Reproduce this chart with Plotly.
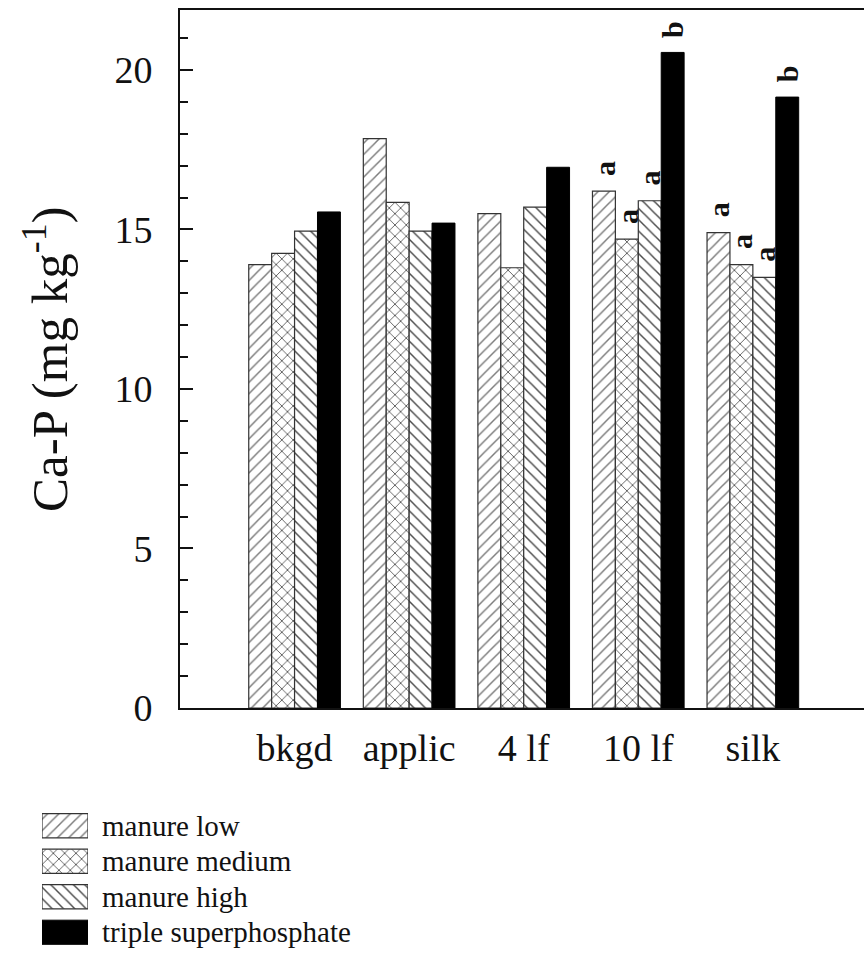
import plotly.graph_objects as go

# ---------------- data ----------------
categories = ["bkgd", "applic", "4 lf", "10 lf", "silk"]
series_names = ["manure low", "manure medium", "manure high", "triple superphosphate"]
manure_low = [13.9, 17.85, 15.5, 16.2, 14.9]
manure_medium = [14.25, 15.85, 13.8, 14.7, 13.9]
manure_high = [14.95, 14.95, 15.7, 15.9, 13.5]
triple_super = [15.55, 15.2, 16.95, 20.55, 19.15]
letters_low = ["", "", "", "a", "a"]
letters_medium = ["", "", "", "a", "a"]
letters_high = ["", "", "", "a", "a"]
letters_super = ["", "", "", "b", "b"]
y_ticks = [0, 5, 10, 15, 20]

values = [manure_low, manure_medium, manure_high, triple_super]
letters = [letters_low, letters_medium, letters_high, letters_super]

# ---------------- styles ----------------
W, H = 864, 977
FONT = "Liberation Serif, Times New Roman, serif"
styles = [
    dict(shape="/", fg="#7a7a7a"),
    dict(shape="x", fg="#3a3a3a"),
    dict(shape="\\", fg="#4a4a4a"),
    dict(shape="", fg="#000000"),
]


def marker_for(st):
    if st["shape"]:
        return dict(color="white",
                    line=dict(color="#333333", width=1.2),
                    pattern=dict(shape=st["shape"], fgcolor=st["fg"], bgcolor="white",
                                 size=8, solidity=0.18, fillmode="replace"))
    return dict(color="black", line=dict(color="black", width=1))


fig = go.Figure()

for name, vals, st in zip(series_names, values, styles):
    fig.add_trace(go.Bar(x=categories, y=vals, name=name, marker=marker_for(st),
                         showlegend=False, xaxis="x", yaxis="y"))

# legend drawn as small bars on a hidden axis pair
for i, (name, st) in enumerate(zip(series_names, styles)):
    fig.add_trace(go.Bar(x=[1], y=[i], orientation="h", width=0.68,
                         marker=marker_for(st), showlegend=False,
                         xaxis="x2", yaxis="y2", hoverinfo="skip"))

annotations = []
nser = len(series_names)
bargap = 0.2
bw = (1 - bargap) / nser
for s, (vals, labs) in enumerate(zip(values, letters)):
    for c, (v, lab) in enumerate(zip(vals, labs)):
        if lab:
            annotations.append(dict(
                x=c - (1 - bargap) / 2 + bw * (s + 0.5), y=v, xref="x", yref="y",
                text="<b>" + lab + "</b>", showarrow=False, textangle=-90,
                xanchor="center", yanchor="middle", yshift=23,
                font=dict(family=FONT, size=30, color="#111111"),
            ))

for i, name in enumerate(series_names):
    annotations.append(dict(
        x=100 / W, y=i, xref="paper", yref="y2", text=name, showarrow=False,
        xanchor="left", yanchor="middle",
        font=dict(family=FONT, size=29, color="#111111"),
    ))

annotations.append(dict(
    x=46 / W, y=(H - 360) / H, xref="paper", yref="paper",
    text="Ca-P (mg kg<sup>-1</sup>)", showarrow=False, textangle=-90,
    xanchor="center", yanchor="middle",
    font=dict(family=FONT, size=51, color="#111111"),
))

fig.update_layout(
    width=W, height=H,
    margin=dict(l=0, r=0, t=0, b=0),
    paper_bgcolor="white", plot_bgcolor="white",
    barmode="group", bargap=bargap, bargroupgap=0,
    showlegend=False,
    font=dict(family=FONT, color="#111111"),
    xaxis=dict(
        domain=[180 / W, 1], range=[-1.0, 4.97], type="category",
        showline=True, linecolor="#111111", linewidth=2, mirror=True,
        ticks="", showgrid=False, zeroline=False,
        tickfont=dict(family=FONT, size=38, color="#111111"),
        ticklabelstandoff=5, automargin=False,
    ),
    yaxis=dict(
        domain=[(H - 708) / H, (H - 10) / H], range=[0, 21.88],
        tickvals=y_ticks, showline=True, linecolor="#111111", linewidth=2,
        ticks="inside", ticklen=13, tickwidth=2, tickcolor="#111111",
        minor=dict(ticks="inside", ticklen=8, dtick=1, tickwidth=2, tickcolor="#111111"),
        showgrid=False, zeroline=False,
        tickfont=dict(family=FONT, size=38, color="#111111"),
        ticklabelstandoff=18, automargin=False,
    ),
    xaxis2=dict(domain=[42 / W, 88 / W], range=[0, 1], visible=False,
                anchor="y2", fixedrange=True),
    yaxis2=dict(domain=[27 / H, 169 / H], range=[3.5, -0.5], visible=False,
                anchor="x2", fixedrange=True),
    annotations=annotations,
)

fig.write_html("out.html")
